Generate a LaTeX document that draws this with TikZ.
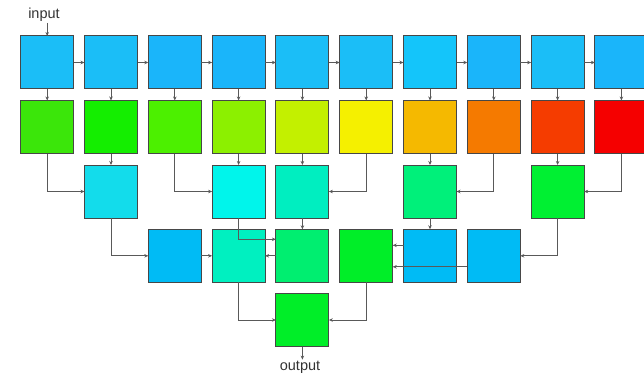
\documentclass[tikz,border=0pt]{standalone}
\usepackage{fontspec}
\setmainfont{Liberation Sans}
\usetikzlibrary{arrows.meta}
\begin{document}
\begin{tikzpicture}[x=1pt,y=1pt,
  cell/.style={draw=black!72,line width=1pt,minimum size=53pt,inner sep=0pt,outer sep=0pt},
  arr/.style={draw=black!65,line width=0.8pt,-{Stealth[length=4pt,width=3.5pt]}},
  lbl/.style={font=\fontsize{14.5}{16}\selectfont,text=black!80,inner sep=1pt}]
\useasboundingbox (0,0) rectangle (644,-377);
% colours
\definecolor{r0a}{HTML}{1BBEF7}\definecolor{r0b}{HTML}{1AB5FA}\definecolor{r0c}{HTML}{14C5FA}
\definecolor{g0}{HTML}{3BE60A}\definecolor{g1}{HTML}{14EE00}\definecolor{g2}{HTML}{4CF000}
\definecolor{g3}{HTML}{8CF000}\definecolor{g4}{HTML}{C3F000}\definecolor{g5}{HTML}{F5F000}
\definecolor{g6}{HTML}{F5B900}\definecolor{g7}{HTML}{F57A00}\definecolor{g8}{HTML}{F53C00}
\definecolor{g9}{HTML}{F50000}
\definecolor{c1}{HTML}{13DCEB}\definecolor{c3}{HTML}{00F5EB}\definecolor{c4}{HTML}{00EEC0}
\definecolor{c6}{HTML}{00F07A}\definecolor{c8}{HTML}{00F032}
\definecolor{d2}{HTML}{00BBF5}\definecolor{d3}{HTML}{00F0C0}\definecolor{d4}{HTML}{00EE70}
\definecolor{d5}{HTML}{00EE28}
% row 0
\node[cell,fill=r0a] (b00) at (47.2,-62.5) {};
\node[cell,fill=r0a] (b10) at (111.0,-62.5) {};
\node[cell,fill=r0b] (b20) at (174.8,-62.5) {};
\node[cell,fill=r0b] (b30) at (238.6,-62.5) {};
\node[cell,fill=r0a] (b40) at (302.4,-62.5) {};
\node[cell,fill=r0a] (b50) at (366.2,-62.5) {};
\node[cell,fill=r0c] (b60) at (430.0,-62.5) {};
\node[cell,fill=r0b] (b70) at (493.8,-62.5) {};
\node[cell,fill=r0a] (b80) at (557.6,-62.5) {};
\node[cell,fill=r0b] (b90) at (621.4,-62.5) {};
% row 1
\node[cell,fill=g0] (b01) at (47.2,-127) {};
\node[cell,fill=g1] (b11) at (111.0,-127) {};
\node[cell,fill=g2] (b21) at (174.8,-127) {};
\node[cell,fill=g3] (b31) at (238.6,-127) {};
\node[cell,fill=g4] (b41) at (302.4,-127) {};
\node[cell,fill=g5] (b51) at (366.2,-127) {};
\node[cell,fill=g6] (b61) at (430.0,-127) {};
\node[cell,fill=g7] (b71) at (493.8,-127) {};
\node[cell,fill=g8] (b81) at (557.6,-127) {};
\node[cell,fill=g9] (b91) at (621.4,-127) {};
% row 2
\node[cell,fill=c1] (b12) at (111.0,-191.5) {};
\node[cell,fill=c3] (b32) at (238.6,-191.5) {};
\node[cell,fill=c4] (b42) at (302.4,-191.5) {};
\node[cell,fill=c6] (b62) at (430.0,-191.5) {};
\node[cell,fill=c8] (b82) at (557.6,-191.5) {};
% row 3
\node[cell,fill=d2] (b23) at (174.8,-255.8) {};
\node[cell,fill=d3] (b33) at (238.6,-255.8) {};
\node[cell,fill=d4] (b43) at (302.4,-255.8) {};
\node[cell,fill=d5] (b53) at (366.2,-255.8) {};
\node[cell,fill=d2] (b63) at (430.0,-255.8) {};
\node[cell,fill=d2] (b73) at (493.8,-255.8) {};
% row 4
\node[cell,fill=d5] (b44) at (302.4,-320) {};
% labels
\node[lbl] (input) at (44,-15) {input};
\node[lbl] (output) at (300,-367) {output};
% connectors
\draw[arr] (b00.north |- input.south) -- (b00.north);
\foreach \a/\b in {0/1,1/2,2/3,3/4,4/5,5/6,6/7,7/8,8/9}
  \draw[arr] (b\a0.east) -- (b\b0.west);
\foreach \a in {0,...,9}
  \draw[arr] (b\a0.south) -- (b\a1.north);
\draw[arr] (b01.south) |- (b12.west);
\draw[arr] (b11.south) -- (b12.north);
\draw[arr] (b21.south) |- (b32.west);
\draw[arr] (b31.south) -- (b32.north);
\draw[arr] (b41.south) -- (b42.north);
\draw[arr] (b51.south) |- (b42.east);
\draw[arr] (b61.south) -- (b62.north);
\draw[arr] (b71.south) |- (b62.east);
\draw[arr] (b81.south) -- (b82.north);
\draw[arr] (b91.south) |- (b82.east);
\draw[arr] (b12.south) |- (b23.west);
\draw[arr] (b23.east) -- (b33.west);
\draw[arr] (b32.south) |- ([yshift=-10pt]b43.north west);
\draw[arr] (b42.south) -- (b43.north);
\draw[arr] (b43.west) -- (b33.east);
\draw[arr] (b62.south) -- (b63.north);
\draw[arr] ([yshift=-16pt]b63.north west) -- ([yshift=-16pt]b53.north east);
\draw[arr] ([yshift=-37.5pt]b73.north west) -- ([yshift=-37.5pt]b53.north east);
\draw[arr] (b82.south) |- (b73.east);
\draw[arr] (b33.south) |- (b44.west);
\draw[arr] (b53.south) |- (b44.east);
\draw[arr] (b44.south) -- (b44.south |- output.north);
\end{tikzpicture}
\end{document}
